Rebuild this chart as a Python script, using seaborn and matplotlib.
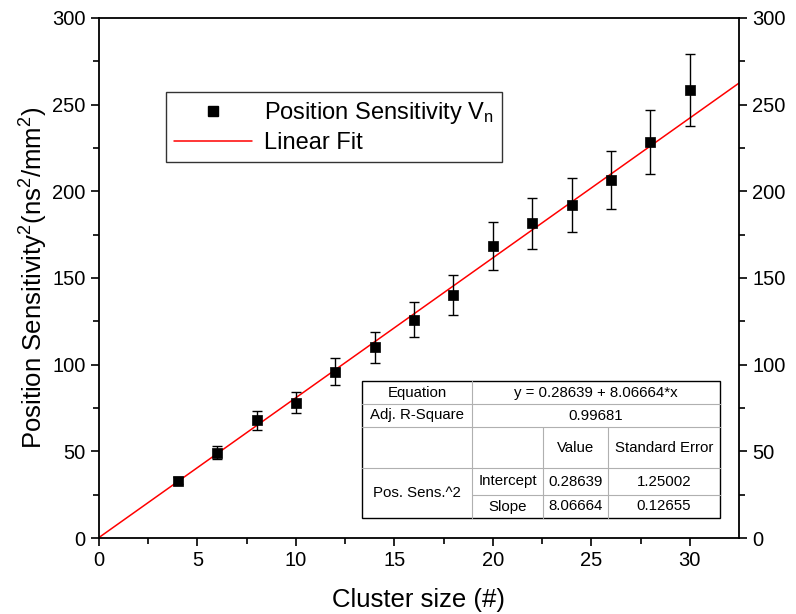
import numpy as np
import pandas as pd
import matplotlib
matplotlib.use("Agg")
import matplotlib.pyplot as plt
import seaborn as sns
from matplotlib.lines import Line2D

# ---- data ----
cluster_size = [4, 6, 8, 10, 12, 14, 16, 18, 20, 22, 24, 26, 28, 30]
pos_sens_sq = [33.0, 49.3, 67.8, 78.0, 96.0, 110.0, 126.0, 140.0, 168.5, 181.5, 192.0, 206.5, 228.5, 258.5]
pos_sens_err = [2.0, 4.0, 5.6, 6.1, 7.8, 9.0, 10.0, 11.5, 13.7, 14.7, 15.6, 16.7, 18.5, 21.0]
fit_intercept = 0.28639
fit_slope = 8.06664
fit_x = [0.0, 32.5]
x_ticks = [0, 5, 10, 15, 20, 25, 30]
y_ticks = [0, 50, 100, 150, 200, 250, 300]

table_rows = [
    ["Equation", "y = 0.28639 + 8.06664*x"],
    ["Adj. R-Square", "0.99681"],
]
table_header = ["", "", "Value", "Standard Error"]
table_param_group = "Pos. Sens.^2"
table_params = [["Intercept", "0.28639", "1.25002"],
                ["Slope", "8.06664", "0.12655"]]

sns.set_theme(style="ticks")
plt.rcParams['font.family'] = ['Liberation Sans', 'DejaVu Sans']
plt.rcParams['mathtext.fontset'] = 'custom'
plt.rcParams['mathtext.rm'] = 'Liberation Sans'
plt.rcParams['mathtext.it'] = 'Liberation Sans'
plt.rcParams['text.color'] = 'black'
plt.rcParams['axes.labelcolor'] = 'black'
plt.rcParams['xtick.color'] = 'black'
plt.rcParams['ytick.color'] = 'black'

fig = plt.figure(figsize=(7.96, 6.14), dpi=100)
ax = fig.add_axes([99/796, 1 - 538/614, (739-99)/796, (538-18)/614])

df = pd.DataFrame({"x": cluster_size, "y": pos_sens_sq, "err": pos_sens_err})
fit_df = pd.DataFrame({"x": fit_x,
                       "y": [fit_intercept + fit_slope * v for v in fit_x]})

sns.lineplot(data=fit_df, x="x", y="y", ax=ax, color="#ff0000", lw=1.1, zorder=2)
ax.errorbar(df["x"], df["y"], yerr=df["err"], fmt="none", ecolor="black",
            elinewidth=1.0, capsize=3.6, capthick=1.0, zorder=3)
sns.scatterplot(data=df, x="x", y="y", ax=ax, marker="s", color="black",
                s=60, edgecolor="black", linewidth=0.5, zorder=4)

ax.set_xlim(0, 32.5)
ax.set_ylim(0, 300)
ax.set_xticks(x_ticks)
ax.set_yticks(y_ticks)
ax.set_xticks(np.arange(2.5, 32.5, 5), minor=True)
ax.set_yticks(np.arange(25, 300, 50), minor=True)
ax.tick_params(axis="both", which="major", direction="out", length=6, width=1.2,
               labelsize=14.5, colors="black")
ax.tick_params(axis="both", which="minor", direction="out", length=4, width=1.2)
ax.tick_params(axis="y", which="both", right=True, labelright=True)
ax.tick_params(axis="x", which="both", top=False)
for sp in ax.spines.values():
    sp.set_visible(True)
    sp.set_linewidth(1.3)
    sp.set_color("black")

ax.set_xlabel("Cluster size (#)", fontsize=18.5, labelpad=13)
ax.set_ylabel(r"Position Sensitivity$^\mathregular{2}$(ns$^\mathregular{2}$/mm$^\mathregular{2}$)",
              fontsize=18.5, labelpad=2)

handles = [Line2D([], [], ls="none", marker="s", color="black", markersize=7.5),
           Line2D([], [], color="#ff0000", lw=1.1)]
leg = ax.legend(handles, [r"Position Sensitivity V$_\mathregular{n}$", "Linear Fit"],
                loc="upper left", bbox_to_anchor=((166-99)/640, (538-92)/520),
                borderaxespad=0.0,
                fontsize=17, frameon=True, fancybox=False, edgecolor="black",
                borderpad=0.35, handlelength=3.3, handletextpad=0.5, labelspacing=0.25)
leg.get_frame().set_linewidth(1.0)

# ---- fit table (in figure pixel coordinates) ----
W, H = 796, 614
def fx(px): return px / W
def fy(py): return 1 - py / H

cols = [362, 472, 543, 608, 720]
rows = [381, 404, 427, 468, 495, 518]
grey = "#b0b0b0"
fs = 10.8

fig.patches.append(plt.Rectangle((fx(cols[0]), fy(rows[-1])), fx(cols[-1]) - fx(cols[0]),
                                 fy(rows[0]) - fy(rows[-1]), transform=fig.transFigure,
                                 facecolor="white", edgecolor="black", lw=1.0, zorder=5))
def hline(y, x0, x1):
    fig.add_artist(Line2D([fx(x0), fx(x1)], [fy(y), fy(y)], color=grey, lw=0.8, zorder=6))
def vline(x, y0, y1):
    fig.add_artist(Line2D([fx(x), fx(x)], [fy(y0), fy(y1)], color=grey, lw=0.8, zorder=6))

hline(rows[1], cols[0], cols[-1])
hline(rows[2], cols[0], cols[-1])
hline(rows[3], cols[0], cols[-1])
hline(rows[4], cols[1], cols[-1])
vline(cols[1], rows[0], rows[-1])
vline(cols[2], rows[2], rows[-1])
vline(cols[3], rows[2], rows[-1])

def txt(x, y, s):
    fig.text(fx(x), fy(y), s, ha="center", va="center", fontsize=fs, color="black", zorder=7)

for i, (lab, val) in enumerate(table_rows):
    yc = (rows[i] + rows[i+1]) / 2
    txt((cols[0] + cols[1]) / 2, yc, lab)
    txt((cols[1] + cols[-1]) / 2, yc, val)
yc = (rows[2] + rows[3]) / 2
for j, h in enumerate(table_header):
    if h:
        txt((cols[j] + cols[j+1]) / 2, yc, h)
txt((cols[0] + cols[1]) / 2, (rows[3] + rows[5]) / 2, table_param_group)
for i, r in enumerate(table_params):
    yc = (rows[3+i] + rows[4+i]) / 2
    for j, s in enumerate(r):
        txt((cols[1+j] + cols[2+j]) / 2, yc, s)

fig.savefig("out.png", dpi=100)
